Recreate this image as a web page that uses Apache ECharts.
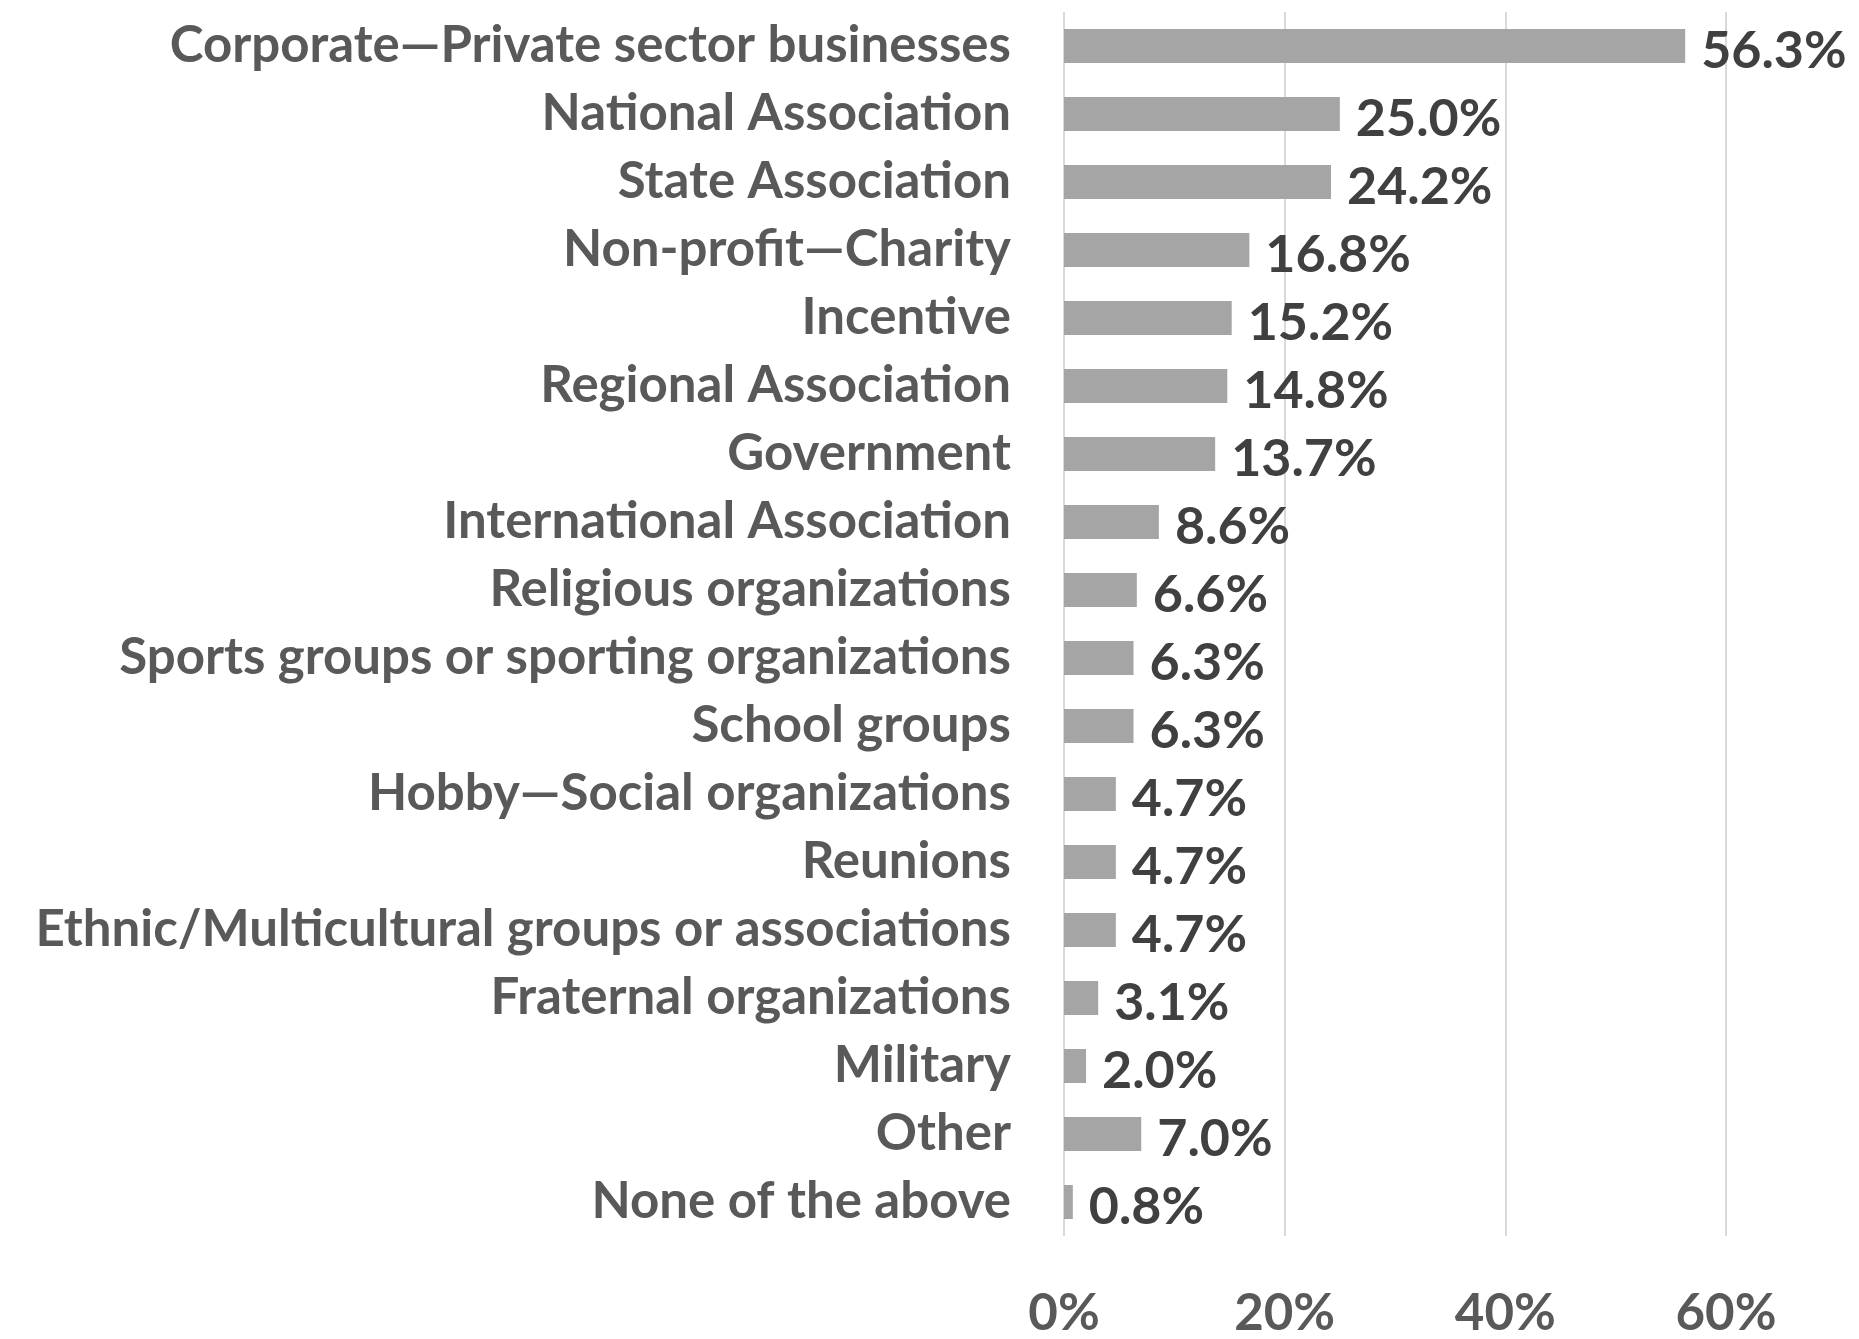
<!DOCTYPE html>
<html>
<head>
<meta charset="utf-8">
<script src="https://cdn.jsdelivr.net/npm/echarts@6/dist/echarts.min.js"></script>
<style>
  html, body { margin: 0; padding: 0; background: #ffffff; }
  #chart { width: 1859px; height: 1339px; }
</style>
</head>
<body>
<div id="chart"></div>
<script>
// Organization types, listed top to bottom
const categories = [
  'Corporate\u2014Private sector businesses',
  'National Association',
  'State Association',
  'Non-profit\u2014Charity',
  'Incentive',
  'Regional Association',
  'Government',
  'International Association',
  'Religious organizations',
  'Sports groups or sporting organizations',
  'School groups',
  'Hobby\u2014Social organizations',
  'Reunions',
  'Ethnic/Multicultural groups or associations',
  'Fraternal organizations',
  'Military',
  'Other',
  'None of the above'
];

// Share of respondents (%)
const shares = [56.3, 25.0, 24.2, 16.8, 15.2, 14.8, 13.7, 8.6, 6.6, 6.3, 6.3, 4.7, 4.7, 4.7, 3.1, 2.0, 7.0, 0.8];

// Percentage axis ticks
const axisMin = 0;
const axisMax = 60;
const axisStep = 20;

const FONT = 'Lato, "Open Sans", sans-serif';

const chart = echarts.init(document.getElementById('chart'));
chart.setOption({
  backgroundColor: '#ffffff',
  animation: false,
  grid: { left: 1064, top: 12, width: 662, height: 1229, containLabel: false },
  xAxis: {
    type: 'value',
    min: axisMin,
    max: axisMax,
    interval: axisStep,
    axisLine: { show: false },
    axisTick: { show: false },
    splitLine: { show: true, lineStyle: { color: '#d9d9d9', width: 2 } },
    axisLabel: {
      formatter: v => v + '%',
      color: '#595959',
      fontFamily: FONT,
      fontWeight: 'bold',
      fontSize: 51,
      margin: 52
    }
  },
  yAxis: {
    type: 'category',
    data: categories,
    inverse: true,
    axisLine: { show: false },
    axisTick: { show: false },
    splitLine: { show: false },
    axisLabel: {
      color: '#595959',
      fontFamily: FONT,
      fontWeight: 'bold',
      fontSize: 51,
      margin: 53
    }
  },
  series: [{
    type: 'bar',
    data: shares,
    barCategoryGap: '50%',
    itemStyle: { color: '#a5a5a5' },
    label: {
      show: true,
      position: 'right',
      distance: 16,
      offset: [0, 5],
      formatter: p => p.value.toFixed(1) + '%',
      color: '#404040',
      fontFamily: FONT,
      fontWeight: 'bold',
      fontSize: 52
    }
  }]
});
</script>
</body>
</html>
